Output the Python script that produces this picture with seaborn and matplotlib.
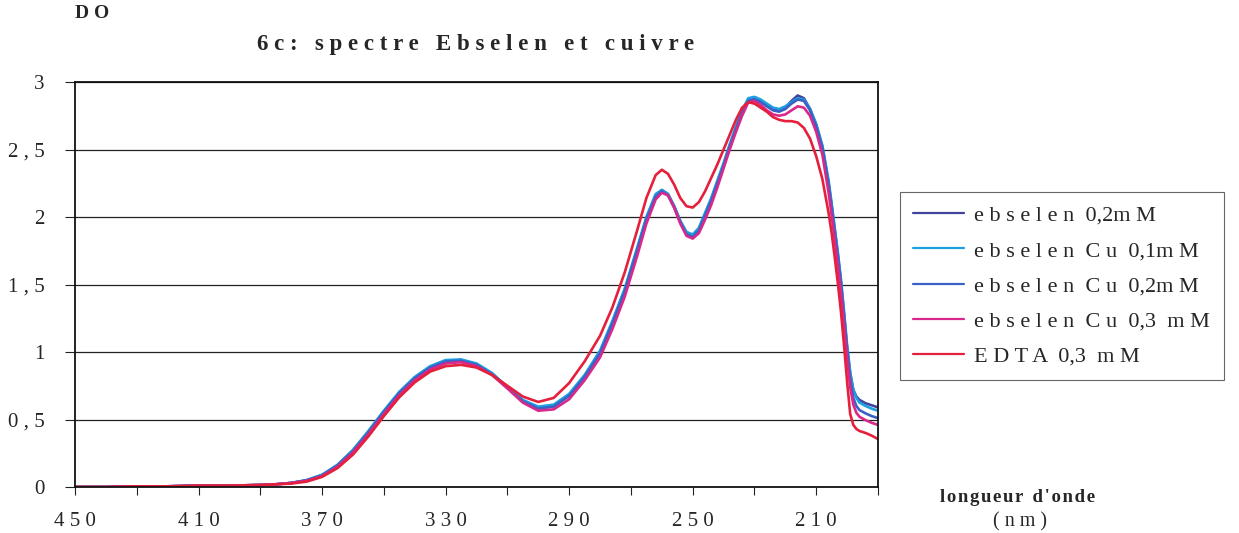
import numpy as np
import pandas as pd
import matplotlib
matplotlib.use("Agg")
import matplotlib.pyplot as plt
import seaborn as sns

# ---------------- data ----------------
wavelength = [450, 440, 430, 420, 410, 400, 390, 385, 380, 375, 370, 365, 360, 355, 350,
              345, 340, 335, 330, 325, 320, 315, 310, 305, 300, 295, 290, 285, 280, 276,
              272, 268, 265, 262, 260, 258, 256, 254, 252, 250, 248, 246, 244, 242, 240,
              238, 236, 234, 232, 230, 228, 226, 224, 222, 220, 218, 216, 214, 212, 210,
              208, 206, 205, 204, 203, 202, 201, 200, 199, 198, 197, 196, 194, 192, 190]

ebselen_02 = [0.00, 0.00, 0.005, 0.005, 0.01, 0.01, 0.015, 0.02, 0.03, 0.05, 0.09, 0.16, 0.27, 0.41, 0.56,
              0.70, 0.81, 0.89, 0.935, 0.94, 0.91, 0.84, 0.74, 0.64, 0.585, 0.60, 0.68, 0.82, 1.00, 1.22,
              1.46, 1.76, 1.99, 2.16, 2.20, 2.17, 2.08, 1.97, 1.88, 1.86, 1.91, 2.02, 2.13, 2.26, 2.39,
              2.53, 2.66, 2.78, 2.87, 2.88, 2.86, 2.83, 2.80, 2.79, 2.81, 2.86, 2.90, 2.88, 2.80, 2.68,
              2.52, 2.25, 2.08, 1.90, 1.72, 1.52, 1.28, 1.03, 0.84, 0.72, 0.67, 0.645, 0.62, 0.605, 0.59]

ebselen_cu_01 = [0.00, 0.00, 0.005, 0.005, 0.01, 0.01, 0.015, 0.02, 0.03, 0.05, 0.09, 0.165, 0.275, 0.415, 0.565,
                 0.705, 0.815, 0.895, 0.94, 0.945, 0.915, 0.845, 0.74, 0.645, 0.595, 0.61, 0.69, 0.83, 1.01, 1.23,
                 1.47, 1.77, 2.00, 2.17, 2.20, 2.17, 2.08, 1.97, 1.89, 1.87, 1.92, 2.03, 2.14, 2.27, 2.40,
                 2.54, 2.67, 2.79, 2.88, 2.89, 2.87, 2.84, 2.81, 2.80, 2.82, 2.85, 2.88, 2.87, 2.80, 2.69,
                 2.53, 2.27, 2.10, 1.92, 1.74, 1.54, 1.30, 1.05, 0.85, 0.72, 0.66, 0.625, 0.60, 0.58, 0.565]

ebselen_cu_02 = [0.00, 0.00, 0.005, 0.005, 0.01, 0.01, 0.015, 0.02, 0.03, 0.05, 0.085, 0.16, 0.265, 0.405, 0.555,
                 0.695, 0.805, 0.885, 0.93, 0.935, 0.905, 0.835, 0.735, 0.635, 0.58, 0.595, 0.675, 0.815, 0.99, 1.21,
                 1.45, 1.75, 1.98, 2.15, 2.19, 2.16, 2.07, 1.96, 1.87, 1.85, 1.90, 2.01, 2.12, 2.25, 2.38,
                 2.52, 2.65, 2.77, 2.86, 2.87, 2.85, 2.82, 2.79, 2.78, 2.80, 2.84, 2.87, 2.86, 2.79, 2.67,
                 2.51, 2.24, 2.07, 1.89, 1.71, 1.51, 1.27, 1.02, 0.80, 0.66, 0.60, 0.57, 0.545, 0.525, 0.51]

ebselen_cu_03 = [0.00, 0.00, 0.005, 0.005, 0.01, 0.01, 0.015, 0.02, 0.03, 0.045, 0.08, 0.15, 0.255, 0.39, 0.54,
                 0.68, 0.79, 0.87, 0.915, 0.925, 0.895, 0.83, 0.73, 0.625, 0.565, 0.575, 0.65, 0.79, 0.96, 1.17,
                 1.41, 1.71, 1.95, 2.13, 2.18, 2.16, 2.07, 1.95, 1.86, 1.84, 1.88, 1.98, 2.09, 2.22, 2.36,
                 2.50, 2.63, 2.75, 2.85, 2.86, 2.83, 2.79, 2.76, 2.75, 2.76, 2.79, 2.82, 2.81, 2.75, 2.63,
                 2.46, 2.18, 2.01, 1.83, 1.64, 1.44, 1.20, 0.95, 0.74, 0.61, 0.55, 0.52, 0.495, 0.475, 0.46]

edta_03 = [0.00, 0.00, 0.005, 0.005, 0.01, 0.01, 0.015, 0.02, 0.025, 0.04, 0.075, 0.14, 0.24, 0.375, 0.525,
           0.665, 0.775, 0.855, 0.895, 0.905, 0.885, 0.83, 0.75, 0.67, 0.63, 0.66, 0.77, 0.93, 1.12, 1.33,
           1.59, 1.90, 2.14, 2.31, 2.35, 2.32, 2.24, 2.14, 2.08, 2.07, 2.11, 2.19, 2.29, 2.39, 2.50,
           2.61, 2.72, 2.81, 2.85, 2.84, 2.81, 2.78, 2.74, 2.72, 2.71, 2.71, 2.70, 2.66, 2.58, 2.45,
           2.28, 2.03, 1.88, 1.70, 1.51, 1.30, 1.05, 0.78, 0.54, 0.46, 0.43, 0.415, 0.40, 0.38, 0.355]

series_labels = ["e b s e l e n  0,2m M",
                 "e b s e l e n  C u  0,1m M",
                 "e b s e l e n  C u  0,2m M",
                 "e b s e l e n  C u  0,3  m M",
                 "E D T A  0,3  m M"]
series_values = [ebselen_02, ebselen_cu_01, ebselen_cu_02, ebselen_cu_03, edta_03]
series_colors = ["#40449c", "#1e9fe2", "#3a62c4", "#d8288c", "#e4203c"]

y_ticks = [0, 0.5, 1, 1.5, 2, 2.5, 3]
y_tick_labels = ["0", "0 , 5", "1", "1 , 5", "2", "2 , 5", "3"]
x_ticks = [450, 430, 410, 390, 370, 350, 330, 310, 290, 270, 250, 230, 210, 190]
x_tick_labels = ["4 5 0", "", "4 1 0", "", "3 7 0", "", "3 3 0", "", "2 9 0", "", "2 5 0", "", "2 1 0", ""]

title_text = "6 c :   s p e c t r e   E b s e l e n   e t   c u i v r e"
ylabel_text = "D O"
xlabel_line1 = "l\u200ao\u200an\u200ag\u200au\u200ae\u200au\u200ar  d\u200a'\u200ao\u200an\u200ad\u200ae"
xlabel_line2 = "( n m )"

# ---------------- frame ----------------
rows = []
for lab, vals in zip(series_labels, series_values):
    for w, v in zip(wavelength, vals):
        rows.append({"nm": w, "DO": v, "serie": lab})
df = pd.DataFrame(rows)

sns.set_style("white")
plt.rcParams["font.family"] = ["Liberation Serif", "DejaVu Serif"]

W, H = 1239, 533
fig = plt.figure(figsize=(W / 100, H / 100), dpi=100)
ax = fig.add_axes([75 / W, 46 / H, 803 / W, 405 / H])

sns.lineplot(data=df, x="nm", y="DO", hue="serie", hue_order=series_labels,
             palette=dict(zip(series_labels, series_colors)), estimator=None,
             sort=True, linewidth=1.9, ax=ax, legend=True)

ax.set_xlim(450, 190)
ax.set_ylim(0, 3)
ax.set_yticks(y_ticks)
ax.set_yticklabels(y_tick_labels, fontsize=15)
ax.set_xticks(x_ticks)
ax.set_xticklabels(x_tick_labels, fontsize=15)
ax.tick_params(axis="y", direction="out", length=7, width=0.8, pad=15, color="#222", left=True)
ax.tick_params(axis="x", direction="out", length=6, width=0.8, pad=12, color="#222", bottom=True)
ax.yaxis.grid(True, color="#222", linewidth=0.9)
ax.xaxis.grid(False)
ax.set_axisbelow(True)
for s in ax.spines.values():
    s.set_color("#111")
    s.set_linewidth(1.3)
ax.set_xlabel("")
ax.set_ylabel("")

sns.move_legend(ax, loc="upper left", bbox_to_anchor=(900 / W, 1 - 192 / H),
                bbox_transform=fig.transFigure, title=None, frameon=True,
                fontsize=16, handlelength=2.3, handletextpad=0.45,
                labelspacing=0.66, borderpad=0.6, borderaxespad=0, fancybox=False,
                edgecolor="#666", framealpha=1)
leg = ax.get_legend()
leg.get_frame().set_linewidth(0.8)
for ln in leg.get_lines():
    ln.set_linewidth(1.6)

fig.text(92 / W, 1 - 14 / H, ylabel_text, ha="center", va="center",
         fontsize=14, fontweight="bold")
fig.text(476 / W, 1 - 45 / H, title_text, ha="center", va="center",
         fontsize=16.5, fontweight="bold")
fig.text(1018 / W, 1 - 498 / H, xlabel_line1, ha="center", va="center",
         fontsize=13.5, fontweight="bold")
fig.text(1020 / W, 1 - 522 / H, xlabel_line2, ha="center", va="center",
         fontsize=14.5)

fig.savefig("out.png", dpi=100, facecolor="white")
